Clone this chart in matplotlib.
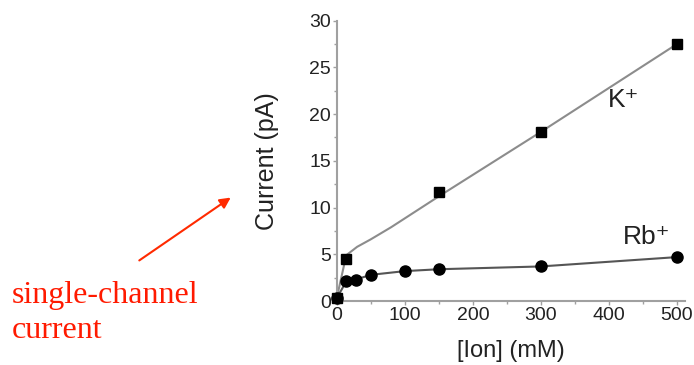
import numpy as np
import matplotlib
matplotlib.use('Agg')
import matplotlib.pyplot as plt
from matplotlib.ticker import MultipleLocator

plt.rcParams['font.family'] = ['Liberation Sans', 'DejaVu Sans']

# --- data
k_conc = [0, 14, 150, 300, 500]              # mM
k_curr = [0.3, 4.5, 11.7, 18.1, 27.5]        # pA
# fitted curve for K+
k_fit_conc = [0, 14, 30, 50, 80, 150, 300, 500]
k_fit_curr = [0.3, 4.9, 5.8, 6.6, 7.9, 11.2, 18.1, 27.5]

rb_conc = [0, 14, 28, 50, 100, 150, 300, 500]
rb_curr = [0.3, 2.1, 2.3, 2.8, 3.2, 3.4, 3.7, 4.7]

line_col = '#8c8c8c'
axis_col = '#a0a0a0'
text_col = '#222222'

# --- plot
fig = plt.figure(figsize=(6.94, 3.65), dpi=100)
ax = fig.add_axes([0.4852, 0.1753, 0.502, 0.768])

ax.plot(k_fit_conc, k_fit_curr, '-', color=line_col, lw=1.5, zorder=2)
ax.plot(k_conc, k_curr, 's', color='black', ms=7, zorder=3, clip_on=False)
ax.plot(rb_conc, rb_curr, '-', color='#555555', lw=1.5, zorder=2)
ax.plot(rb_conc, rb_curr, 'o', color='black', ms=8, zorder=3, clip_on=False)

ax.set_xlim(0, 512)
ax.set_ylim(0, 30)
ax.xaxis.set_major_locator(MultipleLocator(100))
ax.xaxis.set_minor_locator(MultipleLocator(50))
ax.yaxis.set_major_locator(MultipleLocator(5))
ax.yaxis.set_minor_locator(MultipleLocator(2.5))

for s in ['top', 'right']:
	ax.spines[s].set_visible(False)
for s in ['left', 'bottom']:
	ax.spines[s].set_color(axis_col)
	ax.spines[s].set_linewidth(1.5)

ax.tick_params(which='major', length=3, width=1, color=axis_col, labelsize=14,
			   labelcolor=text_col, pad=1)
ax.tick_params(which='minor', length=2, width=1, color=axis_col)

ax.set_xlabel('[Ion] (mM)', fontsize=17, color=text_col, labelpad=12)
ax.set_ylabel('Current (pA)', fontsize=18, color=text_col, labelpad=22)

ax.text(422, 21.5, 'K\u207a', fontsize=19, color=text_col, ha='center', va='center')
ax.text(455, 6.8, 'Rb\u207a', fontsize=19, color=text_col, ha='center', va='center')

# --- red annotation
red = '#ff1a00'
fig.text(12 / 694, 1 - 303 / 365, 'single-channel', fontsize=23,
		 color=red, family='Liberation Serif', ha='left', va='baseline')
fig.text(12 / 694, 1 - 338 / 365, 'current', fontsize=23,
		 color=red, family='Liberation Serif', ha='left', va='baseline')
fig.add_artist(matplotlib.patches.FancyArrowPatch(
	(137 / 694, 1 - 262 / 365), (233 / 694, 1 - 196 / 365),
	transform=fig.transFigure, arrowstyle='-|>', mutation_scale=16,
	color='#ff2a00', lw=1.5))

plt.savefig('out.png', dpi=100)
